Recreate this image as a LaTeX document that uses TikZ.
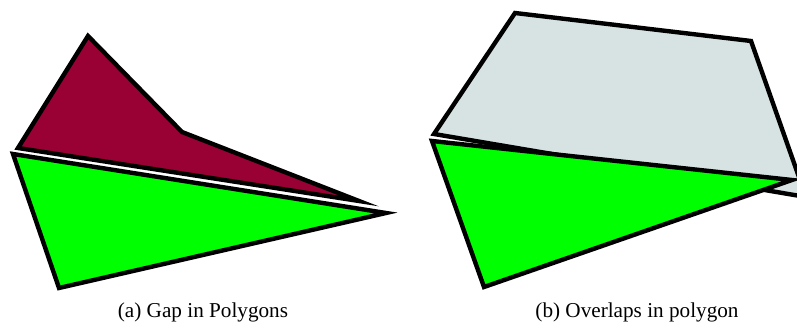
\documentclass[tikz,border=0pt]{standalone}
\usepackage{fontspec}
\setmainfont{Liberation Serif}
\definecolor{wine}{RGB}{153,0,51}
\definecolor{lime}{RGB}{0,255,0}
\definecolor{paleg}{RGB}{215,227,227}
\tikzset{
  poly/.style={draw=black, line width=4.4pt, line join=miter},
  captext/.style={font=\fontsize{21.2}{25}\selectfont, inner sep=0pt}
}
\begin{document}
\begin{tikzpicture}[x=1pt,y=-1pt]
\useasboundingbox (0,0) rectangle (797,331);
\begin{scope}
\clip (0,0) rectangle (797,331);
% (a) gap
\coordinate (r1) at (18,148);
\coordinate (r2) at (88,36);
\coordinate (r3) at (182,132);
\coordinate (r4) at (359,201);
\filldraw[poly, fill=wine] (r1) -- (r2) -- (r3) -- (r4) -- cycle;
\coordinate (g1) at (13,154);
\coordinate (g2) at (386,213);
\coordinate (g3) at (59,288);
\filldraw[poly, fill=lime] (g1) -- (g2) -- (g3) -- cycle;
% (b) overlap
\coordinate (q1) at (434,134);
\coordinate (q2) at (515,13);
\coordinate (q3) at (751,41);
\coordinate (q4) at (806,197);
\filldraw[poly, fill=paleg] (q1) -- (q2) -- (q3) -- (q4) -- cycle;
\coordinate (h1) at (432,141);
\coordinate (h2) at (792,180);
\coordinate (h3) at (484,287);
\filldraw[poly, fill=lime] (h1) -- (h2) -- (h3) -- cycle;
\end{scope}
\node[captext] (ca) at (203,312) {(a) Gap in Polygons};
\node[captext] (cb) at (637,312) {(b) Overlaps in polygon};
\end{tikzpicture}
\end{document}
